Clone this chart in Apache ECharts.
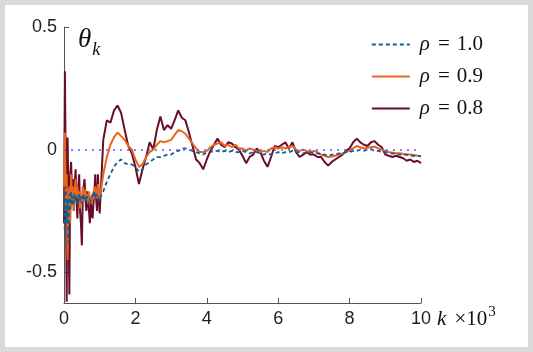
<!DOCTYPE html>
<html>
<head>
<meta charset="utf-8">
<script src="https://cdn.jsdelivr.net/npm/echarts@6/dist/echarts.min.js"></script>
<style>
  html, body { margin: 0; padding: 0; background: #d9d9d9; }
  #chart { position: absolute; left: 5px; top: 5px; width: 523px; height: 342px; background: #fff; }
</style>
</head>
<body>
<div id="chart"></div>
<script>
// iteration index k (x10^3)
const ks = [
  0, 0.025, 0.05, 0.075, 0.1, 0.125, 0.15, 0.175, 0.2, 0.225,
  0.25, 0.275, 0.3, 0.325, 0.35, 0.375, 0.4, 0.425, 0.45, 0.475,
  0.5, 0.525, 0.55, 0.575, 0.6, 0.625, 0.65, 0.675, 0.7, 0.725,
  0.75, 0.775, 0.8, 0.825, 0.85, 0.875, 0.9, 0.925, 0.95, 0.975, 1.0,
  1.1, 1.2, 1.3, 1.4, 1.5, 1.6, 1.7, 1.8, 1.9, 2.0,
  2.1, 2.2, 2.3, 2.4, 2.5, 2.6, 2.7, 2.8, 2.9, 3.0,
  3.1, 3.2, 3.3, 3.4, 3.5, 3.6, 3.7, 3.8, 3.9, 4.0,
  4.1, 4.2, 4.3, 4.4, 4.5, 4.6, 4.7, 4.8, 4.9, 5.0,
  5.1, 5.2, 5.3, 5.4, 5.5, 5.6, 5.7, 5.8, 5.9, 6.0,
  6.1, 6.2, 6.3, 6.4, 6.5, 6.6, 6.7, 6.8, 6.9, 7.0,
  7.1, 7.2, 7.3, 7.4, 7.5, 7.6, 7.7, 7.8, 7.9, 8.0,
  8.1, 8.2, 8.3, 8.4, 8.5, 8.6, 8.7, 8.8, 8.9, 9.0,
  9.1, 9.2, 9.3, 9.4, 9.5, 9.6, 9.7, 9.8, 9.9, 10.0
];

const rho10 = [
  -0.2, -0.35, -0.15, -0.3, -0.2, -0.38, -0.18, -0.25, -0.17, -0.23,
  -0.19, -0.22, -0.18, -0.21, -0.19, -0.23, -0.2, -0.18, -0.21, -0.19,
  -0.22, -0.2, -0.18, -0.2, -0.19, -0.21, -0.19, -0.2, -0.22, -0.2,
  -0.21, -0.2, -0.18, -0.19, -0.17, -0.19, -0.2, -0.18, -0.2, -0.21, -0.2,
  -0.17, -0.13, -0.1, -0.07, -0.05, -0.04, -0.055, -0.06, -0.06, -0.07,
  -0.09, -0.08, -0.06, -0.05, -0.04, -0.03, -0.03, -0.025, -0.02, -0.02,
  -0.01, -0.005, 0.005, 0.005, 0, -0.005, -0.01, -0.015, -0.02, -0.01,
  -0.01, -0.005, -0.005, -0.01, -0.005, -0.01, -0.005, -0.01, -0.01, -0.005,
  -0.01, -0.015, -0.01, -0.01, -0.015, -0.02, -0.015, -0.02, -0.015, -0.01,
  -0.015, -0.01, -0.01, -0.005, -0.01, -0.01, -0.015, -0.01, -0.01, -0.015,
  -0.015, -0.02, -0.02, -0.025, -0.02, -0.02, -0.015, -0.015, -0.01, -0.01,
  -0.005, -0.005, 0, -0.005, 0, 0.002, -0.005, -0.005, -0.01, -0.01,
  -0.015, -0.015, -0.02, -0.02, -0.02, -0.02, -0.025, -0.025, -0.025, -0.025
];

const rho09 = [
  -0.15, 0.07, -0.25, -0.1, -0.45, -0.2, -0.15, -0.3, -0.1, -0.2,
  -0.15, -0.25, -0.17, -0.12, -0.2, -0.15, -0.2, -0.17, -0.24, -0.18,
  -0.22, -0.15, -0.18, -0.2, -0.16, -0.2, -0.18, -0.22, -0.17, -0.21,
  -0.19, -0.22, -0.2, -0.17, -0.2, -0.15, -0.18, -0.2, -0.14, -0.18, -0.2,
  -0.1, -0.03, 0.02, 0.05, 0.07, 0.055, 0.04, 0.015, 0, -0.04,
  -0.07, -0.06, -0.03, -0.01, 0, 0.02, 0.035, 0.03, 0.035, 0.04,
  0.06, 0.08, 0.075, 0.065, 0.045, 0.025, 0.005, -0.01, -0.01, -0.005,
  0.01, 0.02, 0.025, 0.03, 0.015, 0.02, 0.01, 0.02, 0.005, 0.005,
  -0.005, 0.005, 0, -0.005, -0.01, -0.005, -0.01, 0.005, 0.01, 0.005,
  0.01, 0.005, 0.01, 0.015, 0, -0.005, 0, -0.005, -0.01, -0.005,
  -0.01, -0.02, -0.025, -0.03, -0.028, -0.025, -0.02, -0.015, -0.01, -0.005,
  0.005, 0.015, 0.01, 0.005, 0.008, 0.01, 0.012, 0.005, 0, -0.005,
  -0.01, -0.012, -0.015, -0.015, -0.018, -0.02, -0.02, -0.022, -0.025, -0.028
];

const rho08 = [
  -0.3, 0.32, -0.1, -0.62, 0.05, -0.2, -0.59, -0.1, -0.05, -0.2,
  -0.12, -0.25, -0.15, -0.08, -0.2, -0.28, -0.15, -0.1, -0.25, -0.3,
  -0.39, -0.2, -0.15, -0.12, -0.2, -0.25, -0.17, -0.22, -0.25, -0.3,
  -0.2, -0.26, -0.28, -0.22, -0.18, -0.1, -0.2, -0.25, -0.1, -0.2, -0.26,
  0.04, 0.12, 0.11, 0.16, 0.18, 0.15, 0.08, 0.015, -0.015, -0.07,
  -0.14, -0.08, -0.03, 0.03, 0, 0.08, 0.135, 0.08, 0.1, 0.085,
  0.12, 0.16, 0.13, 0.12, 0.07, 0.015, -0.04, -0.055, -0.08, -0.04,
  -0.005, 0.02, 0.045, 0.02, 0.01, 0.03, 0.025, 0.01, 0, -0.025,
  -0.055, -0.03, -0.02, 0.005, -0.01, -0.045, -0.07, -0.03, 0.015, 0.01,
  0.02, 0.03, 0.005, 0.03, -0.01, -0.03, -0.02, -0.01, -0.02, -0.02,
  -0.03, -0.03, -0.05, -0.065, -0.05, -0.04, -0.03, -0.02, -0.005, 0.005,
  0.03, 0.045, 0.03, 0.02, 0.015, 0.03, 0.035, 0.02, 0.01, -0.02,
  -0.025, -0.03, -0.025, -0.03, -0.035, -0.045, -0.04, -0.05, -0.045, -0.055
];

const seriesNames = ['1.0', '0.9', '0.8'];
const seriesColors = ['#155f8e', '#e8651e', '#6b0c28'];
const xTicks = [0, 2, 4, 6, 8, 10];
const yTicks = [-0.5, 0, 0.5];

const chart = echarts.init(document.getElementById('chart'));

const pair = (vals) => ks.map((k, i) => [k, vals[i]]);
const serif = '"Liberation Serif", "DejaVu Serif", serif';
const sans = '"Liberation Sans", Arial, sans-serif';

chart.setOption({
  backgroundColor: '#fff',
  animation: false,
  grid: { left: 59, right: 107, top: 22, bottom: 44 },
  title: {
    text: '{t|θ}{s|k}',
    left: 68, top: 11,
    textStyle: {
      fontWeight: 'normal',
      rich: {
        t: { fontFamily: serif, fontStyle: 'italic', fontSize: 27, color: '#111' },
        s: { fontFamily: serif, fontStyle: 'italic', fontSize: 18, color: '#111', padding: [20, 0, 0, 1] }
      }
    }
  },
  legend: {
    orient: 'vertical',
    right: 40, top: 24,
    itemWidth: 38, itemHeight: 12, itemGap: 11,
    data: seriesNames,
    itemStyle: { opacity: 0 },
    formatter: (n) => '{i|ρ}{e|=}' + n,
    textStyle: {
      fontFamily: serif, fontSize: 21, color: '#111', padding: [0, 0, 0, 5],
      rich: {
        i: { fontFamily: serif, fontStyle: 'italic', fontSize: 21, color: '#111' },
        e: { fontFamily: serif, fontSize: 21, color: '#111', padding: [0, 7, 0, 8] }
      }
    }
  },
  xAxis: {
    type: 'value', min: 0, max: 10,
    name: '{i|k} ×10{sup|3}',
    nameLocation: 'end', nameGap: 15,
    nameTextStyle: {
      fontFamily: serif, fontSize: 21, color: '#111', verticalAlign: 'top', padding: [2, 0, 0, 0],
      rich: {
        i: { fontFamily: serif, fontStyle: 'italic', fontSize: 21, color: '#111', padding: [0, 3, 0, 0] },
        sup: { fontFamily: serif, fontSize: 15, color: '#111', padding: [0, 0, 13, 1] }
      }
    },
    splitLine: { show: false },
    axisLine: { onZero: false, lineStyle: { color: '#555', width: 1 } },
    axisTick: { inside: true, length: 5, customValues: xTicks, lineStyle: { color: '#555' } },
    axisLabel: { customValues: xTicks, fontFamily: sans, fontSize: 18, color: '#222', margin: 7 }
  },
  yAxis: {
    type: 'value', min: -0.625, max: 0.5,
    splitLine: { show: false },
    axisLine: { show: true, onZero: false, lineStyle: { color: '#555', width: 1 } },
    axisTick: { show: true, inside: true, length: 5, customValues: yTicks, lineStyle: { color: '#555' } },
    axisLabel: { customValues: yTicks, fontFamily: sans, fontSize: 18, color: '#222', margin: 7,
      formatter: (v) => (v === 0 ? '0' : String(v)) }
  },
  series: [
    {
      name: seriesNames[0], type: 'line', data: pair(rho10), symbol: 'none', z: 4,
      lineStyle: { color: seriesColors[0], width: 1.8, type: [4, 3] },
      itemStyle: { color: seriesColors[0] },
      markLine: {
        silent: true, symbol: 'none', label: { show: false },
        lineStyle: { color: '#5b5bff', width: 1.5, type: [2, 5] },
        data: [{ yAxis: 0 }]
      }
    },
    {
      name: seriesNames[1], type: 'line', data: pair(rho09), symbol: 'none', z: 3,
      lineStyle: { color: seriesColors[1], width: 2 },
      itemStyle: { color: seriesColors[1] }
    },
    {
      name: seriesNames[2], type: 'line', data: pair(rho08), symbol: 'none', z: 2,
      lineStyle: { color: seriesColors[2], width: 2 },
      itemStyle: { color: seriesColors[2] }
    }
  ]
});
</script>
</body>
</html>
